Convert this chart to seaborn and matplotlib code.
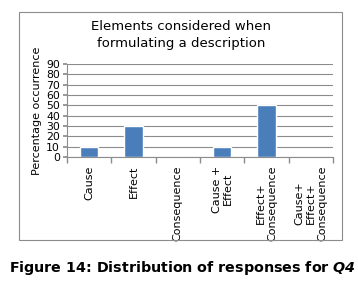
import pandas as pd
import seaborn as sns
import matplotlib.pyplot as plt
from matplotlib.patches import Rectangle

categories = ["Cause", "Effect", "Consequence", "Cause +\nEffect",
              "Effect+\nConsequence", "Cause+\nEffect+\nConsequence"]
values = [10, 30, 0, 10, 50, 0]
yticks = list(range(0, 100, 10))


def plot():
    sns.set_theme(style="white")
    plt.rcParams["font.family"] = ["DejaVu Sans"]
    plt.rcParams["mathtext.fontset"] = "dejavusans"
    plt.rcParams["text.color"] = "black"
    plt.rcParams["axes.labelcolor"] = "black"
    plt.rcParams["xtick.labelcolor"] = "black"
    plt.rcParams["ytick.labelcolor"] = "black"

    df = pd.DataFrame({"category": categories, "value": values})

    fig = plt.figure(figsize=(3.58, 2.87), dpi=100)
    ax = fig.add_axes([67 / 358, 1 - 157 / 287, 266 / 358, 93 / 287])

    sns.barplot(ax=ax, data=df, x="category", y="value",
                color="#4a7ebb", saturation=1, width=0.41)

    ax.set_ylim(0, 90)
    ax.set_xlim(-0.5, len(categories) - 0.5)
    ax.set_yticks(yticks)
    ax.yaxis.grid(True, color="#8c8c8c", linewidth=0.8)
    ax.set_axisbelow(True)
    for s in ["top", "right"]:
        ax.spines[s].set_visible(False)
    for s in ["left", "bottom"]:
        ax.spines[s].set_color("#8c8c8c")
        ax.spines[s].set_linewidth(0.8)

    ax.set_xticks(range(len(categories)))
    ax.set_xticklabels(categories, rotation=90, fontsize=8,
                       va="top", ha="center", linespacing=1.15)
    ax.set_xticks([i + 0.5 for i in range(-1, len(categories))], minor=True)
    ax.tick_params(axis="x", which="major", length=0, pad=6)
    ax.tick_params(axis="x", which="minor", length=4, color="#8c8c8c",
                   direction="out", bottom=True)
    ax.tick_params(axis="y", labelsize=7.8, length=3, pad=2, color="#8c8c8c",
                   left=True)
    ax.set_xlabel("")
    ax.set_ylabel("Percentage occurrence", fontsize=8, labelpad=3)

    fig.text(181 / 358, 1 - 35 / 287,
             "Elements considered when\nformulating a description",
             ha="center", va="center", fontsize=9.5, linespacing=1.3)

    fig.patches.append(Rectangle((19 / 358, 1 - 240 / 287),
                                 323 / 358, 228 / 287,
                                 transform=fig.transFigure, fill=False,
                                 edgecolor="#8c8c8c", linewidth=0.8))

    fig.text(182 / 358, 1 - 268 / 287,
             r"Figure 14: Distribution of responses for $\mathbfit{Q4}$",
             ha="center", va="center", fontsize=10.3, fontweight="bold")

    fig.savefig("out.png", dpi=100)


if __name__ == '__main__':
    plot()
